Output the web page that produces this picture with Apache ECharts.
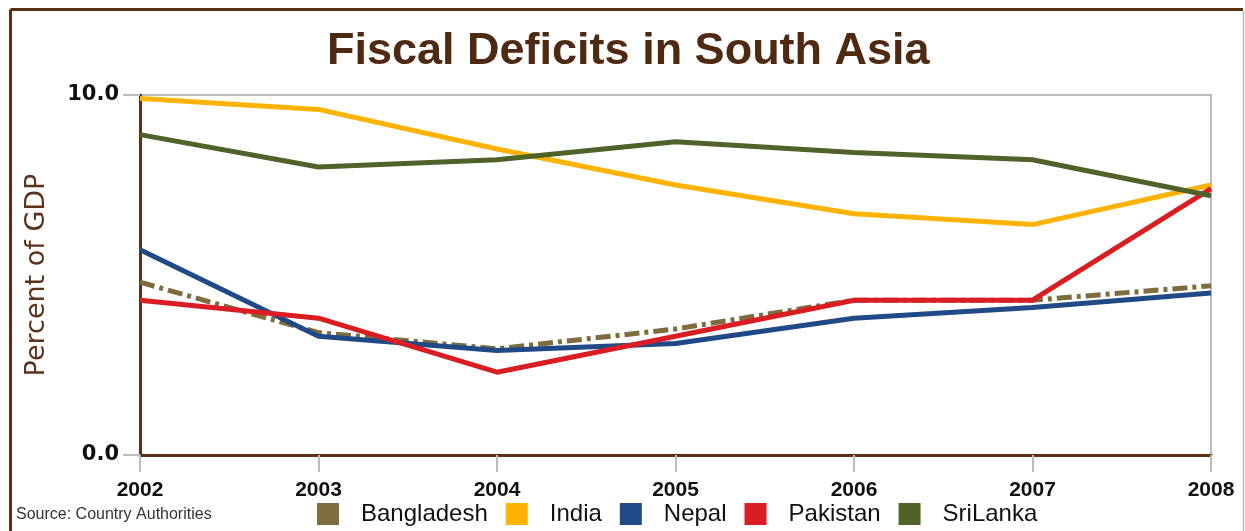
<!DOCTYPE html>
<html>
<head>
<meta charset="utf-8">
<style>
  html, body { margin: 0; padding: 0; background: #fff; }
  #chart { width: 1245px; height: 531px; }
</style>
<script src="https://cdn.jsdelivr.net/npm/echarts@6/dist/echarts.min.js"></script>
</head>
<body>
<div id="chart"></div>
<script>
// data (percent of GDP)
const years = ['2002', '2003', '2004', '2005', '2006', '2007', '2008'];
const bangladesh = [4.8, 3.4, 2.95, 3.5, 4.3, 4.3, 4.7];
const india = [9.9, 9.6, 8.5, 7.5, 6.7, 6.4, 7.5];
const nepal = [5.7, 3.3, 2.9, 3.1, 3.8, 4.1, 4.5];
const pakistan = [4.3, 3.8, 2.3, 3.3, 4.3, 4.3, 7.4];
const sriLanka = [8.9, 8.0, 8.2, 8.7, 8.4, 8.2, 7.2];

const BROWN = '#5a2f12';
const GRAY = '#bdbdbd';

const chart = echarts.init(document.getElementById('chart'));

function line(name, data, color, dash) {
    return {
        name, type: 'line', data,
        symbol: 'none',
        itemStyle: { color },
        lineStyle: { color, width: 5, type: dash || 'solid' }
    };
}

chart.setOption({
    animation: false,
    backgroundColor: '#fff',
    title: {
        text: 'Fiscal Deficits in South Asia',
        left: 322, top: 24,
        textStyle: { fontFamily: 'Liberation Sans', fontSize: 45, fontWeight: 'bold', color: '#4f2a12' }
    },
    grid: {
        left: 140, right: 34, top: 95, bottom: 76,
        show: true, borderColor: GRAY, borderWidth: 2
    },
    legend: {
        left: 312, top: 497,
        icon: 'rect', itemWidth: 22, itemHeight: 22, itemGap: 18,
        textStyle: { fontFamily: 'Liberation Sans', fontSize: 24, color: '#111', padding: [0, 0, 0, 17] },
        data: ['Bangladesh', 'India', 'Nepal', 'Pakistan', 'SriLanka']
    },
    xAxis: {
        type: 'category', data: years, boundaryGap: false,
        axisLine: { lineStyle: { color: BROWN, width: 3 } },
        axisTick: { show: true, alignWithLabel: true, length: 17, lineStyle: { color: GRAY, width: 2 } },
        axisLabel: { margin: 25, fontFamily: 'Liberation Sans', fontSize: 21, fontWeight: 'bold', color: '#111' },
        splitLine: { show: false }
    },
    yAxis: {
        type: 'value', min: 0, max: 10, interval: 10,
        name: 'Percent of GDP', nameLocation: 'middle', nameRotate: 90, nameGap: 90,
        nameTextStyle: { fontFamily: 'DejaVu Sans', fontSize: 27, color: '#5a3318' },
        axisLine: { show: true, lineStyle: { color: BROWN, width: 3 } },
        axisTick: { show: true, length: 17, lineStyle: { color: GRAY, width: 2 } },
        axisLabel: {
            margin: 21, fontFamily: 'DejaVu Sans', fontSize: 21, fontWeight: 'bold', color: '#111',
            formatter: v => v.toFixed(1)
        },
        splitLine: { show: false }
    },
    series: [
        line('Bangladesh', bangladesh, '#7d6c3e', [15, 5, 4, 5]),
        line('India', india, '#ffb300'),
        line('Nepal', nepal, '#1f4a85'),
        line('Pakistan', pakistan, '#da1c23'),
        line('SriLanka', sriLanka, '#4e6229')
    ],
    graphic: [
        // outer frame: brown left/top, gray right
        { type: 'line', shape: { x1: 10.5, y1: 9.5, x2: 1243, y2: 9.5 }, style: { stroke: BROWN, lineWidth: 3 } },
        { type: 'line', shape: { x1: 10.5, y1: 9.5, x2: 10.5, y2: 531 }, style: { stroke: BROWN, lineWidth: 3 } },
        { type: 'line', shape: { x1: 1243.5, y1: 11, x2: 1243.5, y2: 531 }, style: { stroke: GRAY, lineWidth: 1.5 } },
        {
            type: 'text', left: 16, top: 507,
            style: { text: 'Source: Country Authorities', font: '16px "Liberation Sans"', fill: '#333' }
        }
    ]
});
</script>
</body>
</html>
